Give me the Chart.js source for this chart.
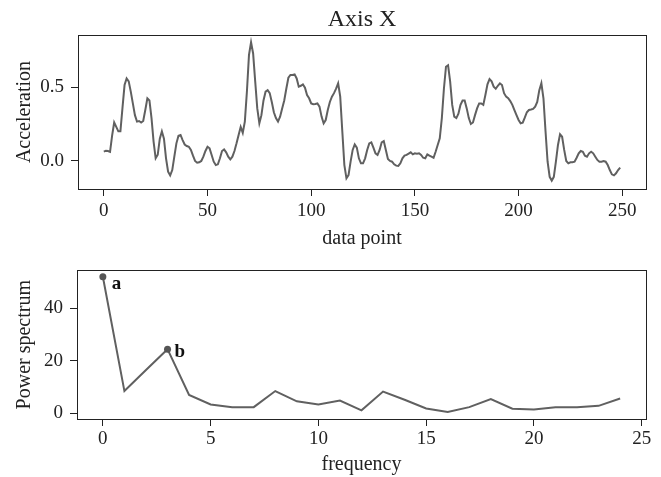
<!DOCTYPE html>
<html>
<head>
<meta charset="utf-8">
<script src="https://cdn.jsdelivr.net/npm/chart.js@4.4.1/dist/chart.umd.min.js"></script>
<style>
  html, body { margin: 0; padding: 0; background: #fff; }
  #wrap { position: relative; width: 661px; height: 477px; }
  canvas { position: absolute; left: 0; }
</style>
</head>
<body>
<div id="wrap">
  <canvas id="accelChart" width="661" height="252" style="top:0"></canvas>
  <canvas id="spectrumChart" width="661" height="225" style="top:252px"></canvas>
</div>
<script>
// acceleration on axis X, one value per data point
const acceleration = [
  0.061, 0.068, 0.066, 0.06, 0.17, 0.26, 0.23, 0.20, 0.20, 0.36,
  0.515, 0.56, 0.54, 0.47, 0.39, 0.31, 0.266, 0.27, 0.26, 0.27,
  0.345, 0.425, 0.41, 0.29, 0.13, 0.016, 0.04, 0.15, 0.20, 0.15,
  0.016, -0.075, -0.10, -0.064, 0.027, 0.118, 0.17, 0.175, 0.14, 0.11,
  0.10, 0.095, 0.073, 0.034, -0.002, -0.014, -0.011, -0.002, 0.027, 0.066,
  0.095, 0.084, 0.039, -0.007, -0.03, -0.025, 0.016, 0.066, 0.077, 0.057,
  0.027, 0.009, 0.027, 0.066, 0.118, 0.175, 0.23, 0.19, 0.266, 0.47,
  0.72, 0.806, 0.73, 0.54, 0.356, 0.254, 0.31, 0.41, 0.47, 0.48,
  0.46, 0.40, 0.33, 0.29, 0.266, 0.30, 0.356, 0.41, 0.49, 0.565,
  0.584, 0.584, 0.588, 0.56, 0.504, 0.51, 0.52, 0.497, 0.447, 0.425,
  0.39, 0.384, 0.386, 0.39, 0.368, 0.30, 0.254, 0.277, 0.345, 0.40,
  0.436, 0.46, 0.49, 0.527, 0.436, 0.20, -0.03, -0.12, -0.098, -0.007,
  0.073, 0.11, 0.089, 0.016, -0.018, -0.018, 0.016, 0.073, 0.118, 0.125,
  0.089, 0.05, 0.039, 0.073, 0.125, 0.134, 0.073, 0.011, -0.002, -0.007,
  -0.025, -0.034, -0.036, -0.018, 0.016, 0.034, 0.039, 0.048, 0.057, 0.043,
  0.05, 0.048, 0.05, 0.039, 0.02, 0.016, 0.043, 0.034, 0.027, 0.02,
  0.061, 0.107, 0.152, 0.29, 0.49, 0.64, 0.65, 0.54, 0.38, 0.30,
  0.29, 0.32, 0.38, 0.41, 0.41, 0.356, 0.29, 0.25, 0.26, 0.31,
  0.356, 0.39, 0.39, 0.38, 0.447, 0.52, 0.556, 0.54, 0.504, 0.49,
  0.51, 0.527, 0.515, 0.46, 0.436, 0.425, 0.406, 0.38, 0.345, 0.31,
  0.277, 0.254, 0.259, 0.293, 0.33, 0.345, 0.348, 0.352, 0.368, 0.40,
  0.48, 0.527, 0.425, 0.20, -0.007, -0.11, -0.136, -0.11, -0.007, 0.107,
  0.18, 0.163, 0.073, -0.002, -0.018, -0.011, -0.011, -0.007, 0.02, 0.05,
  0.066, 0.061, 0.034, 0.027, 0.05, 0.061, 0.05, 0.027, 0.005, -0.007,
  -0.007, -0.002, -0.007, -0.03, -0.064, -0.093, -0.10, -0.086, -0.064, -0.048
];

// power spectrum, frequencies 0..24
const powerSpectrum = [
  51.9, 8.5, 16.5, 24.4, 7.0, 3.4, 2.4, 2.4, 8.5, 4.6,
  3.4, 4.9, 1.2, 8.3, 5.2, 1.9, 0.6, 2.4, 5.5, 1.8,
  1.5, 2.4, 2.4, 2.9, 5.7
];
const peakIndexes = [0, 3];
const peakLabels = ["a", "b"];

// tick labels
const accelXTicks = [0, 50, 100, 150, 200, 250];
const accelYTicks = [0.0, 0.5];
const freqXTicks = [0, 5, 10, 15, 20, 25];
const powerYTicks = [0, 20, 40];

const LINE = "#606060";
const INK = "#222";
const SERIF = "'Liberation Serif', 'Times New Roman', serif";

Chart.defaults.font.family = SERIF;
Chart.defaults.color = INK;

// box round the plot area (matplotlib spines)
const framePlugin = {
  id: "frame",
  afterDraw(chart) {
    const { ctx, chartArea: a } = chart;
    ctx.save();
    ctx.strokeStyle = INK;
    ctx.lineWidth = 1;
    ctx.strokeRect(Math.round(a.left) + 0.5, Math.round(a.top) + 0.5,
      Math.round(a.right - a.left), Math.round(a.bottom - a.top));
    ctx.restore();
  }
};

// title above the first plot
const titlePlugin = {
  id: "axisTitle",
  afterDraw(chart) {
    const { ctx, chartArea: a } = chart;
    ctx.save();
    ctx.font = "24px " + SERIF;
    ctx.fillStyle = INK;
    ctx.textAlign = "center";
    ctx.textBaseline = "middle";
    ctx.fillText("Axis X", (a.left + a.right) / 2, 20);
    ctx.restore();
  }
};

// "a" / "b" next to the marked peaks
const peakLabelPlugin = {
  id: "peakLabels",
  afterDatasetsDraw(chart) {
    const { ctx } = chart;
    const pts = chart.getDatasetMeta(0).data;
    const offsets = [[9, 12], [7, 7.5]];
    ctx.save();
    ctx.font = "bold 19px " + SERIF;
    ctx.fillStyle = "#111";
    ctx.textAlign = "left";
    ctx.textBaseline = "alphabetic";
    peakIndexes.forEach((idx, k) => {
      const p = pts[idx];
      ctx.fillText(peakLabels[k], p.x + offsets[k][0], p.y + offsets[k][1]);
    });
    ctx.restore();
  }
};

function axis(opts) {
  return {
    type: "linear",
    min: opts.min,
    max: opts.max,
    afterBuildTicks: s => { s.ticks = opts.ticks.map(v => ({ value: v })); },
    afterFit: s => { if (opts.width) s.width = opts.width; if (opts.height) s.height = opts.height; },
    grid: { drawOnChartArea: false, drawTicks: true, tickLength: 7, color: INK },
    border: { display: false },
    ticks: {
      padding: opts.tickPad,
      font: { size: 19 },
      color: INK,
      callback: opts.fmt
    },
    title: {
      display: true,
      text: opts.title,
      font: { size: 20 },
      color: INK,
      padding: opts.titlePad
    }
  };
}

// Wykres przyspieszenia
function initAccelChart() {
  const ctx = document.getElementById("accelChart").getContext("2d");
  new Chart(ctx, {
    type: "line",
    data: {
      datasets: [{
        data: acceleration.map((v, i) => ({ x: i, y: v })),
        borderColor: LINE,
        borderWidth: 2,
        pointRadius: 0,
        tension: 0
      }]
    },
    options: {
      responsive: false,
      animation: false,
      layout: { padding: { top: 35, right: 15, left: 0, bottom: 0 } },
      plugins: { legend: { display: false }, tooltip: { enabled: false } },
      scales: {
        x: axis({ min: -12.45, max: 261.45, ticks: accelXTicks, height: 63, tickPad: 4,
          fmt: v => String(v), title: "data point", titlePad: { top: 0, bottom: 1 } }),
        y: axis({ min: -0.193, max: 0.856, ticks: accelYTicks, width: 78, tickPad: 7,
          fmt: v => v.toFixed(1), title: "Acceleration", titlePad: { top: 12.5, bottom: 0 } })
      }
    },
    plugins: [framePlugin, titlePlugin]
  });
}

// Wykres widma mocy
function initSpectrumChart() {
  const ctx = document.getElementById("spectrumChart").getContext("2d");
  new Chart(ctx, {
    type: "line",
    data: {
      datasets: [{
        data: powerSpectrum.map((v, i) => ({ x: i, y: v })),
        borderColor: LINE,
        borderWidth: 2,
        backgroundColor: "#555",
        pointBackgroundColor: "#555",
        pointBorderWidth: 0,
        pointRadius: c => peakIndexes.includes(c.dataIndex) ? 3.5 : 0,
        tension: 0
      }]
    },
    options: {
      responsive: false,
      animation: false,
      layout: { padding: { top: 14, right: 15, left: 0, bottom: 0 } },
      plugins: { legend: { display: false }, tooltip: { enabled: false } },
      scales: {
        x: axis({ min: -1.2, max: 25.2, ticks: freqXTicks, height: 58, tickPad: 2,
          fmt: v => String(v), title: "frequency", titlePad: { top: 0, bottom: 0 } }),
        y: axis({ min: -2.1, max: 54.3, ticks: powerYTicks, width: 77, tickPad: 7,
          fmt: v => String(v), title: "Power spectrum", titlePad: { top: 12.5, bottom: 0 } })
      }
    },
    plugins: [framePlugin, peakLabelPlugin]
  });
}

document.addEventListener("DOMContentLoaded", () => {
  initAccelChart();
  initSpectrumChart();
});
</script>
</body>
</html>
